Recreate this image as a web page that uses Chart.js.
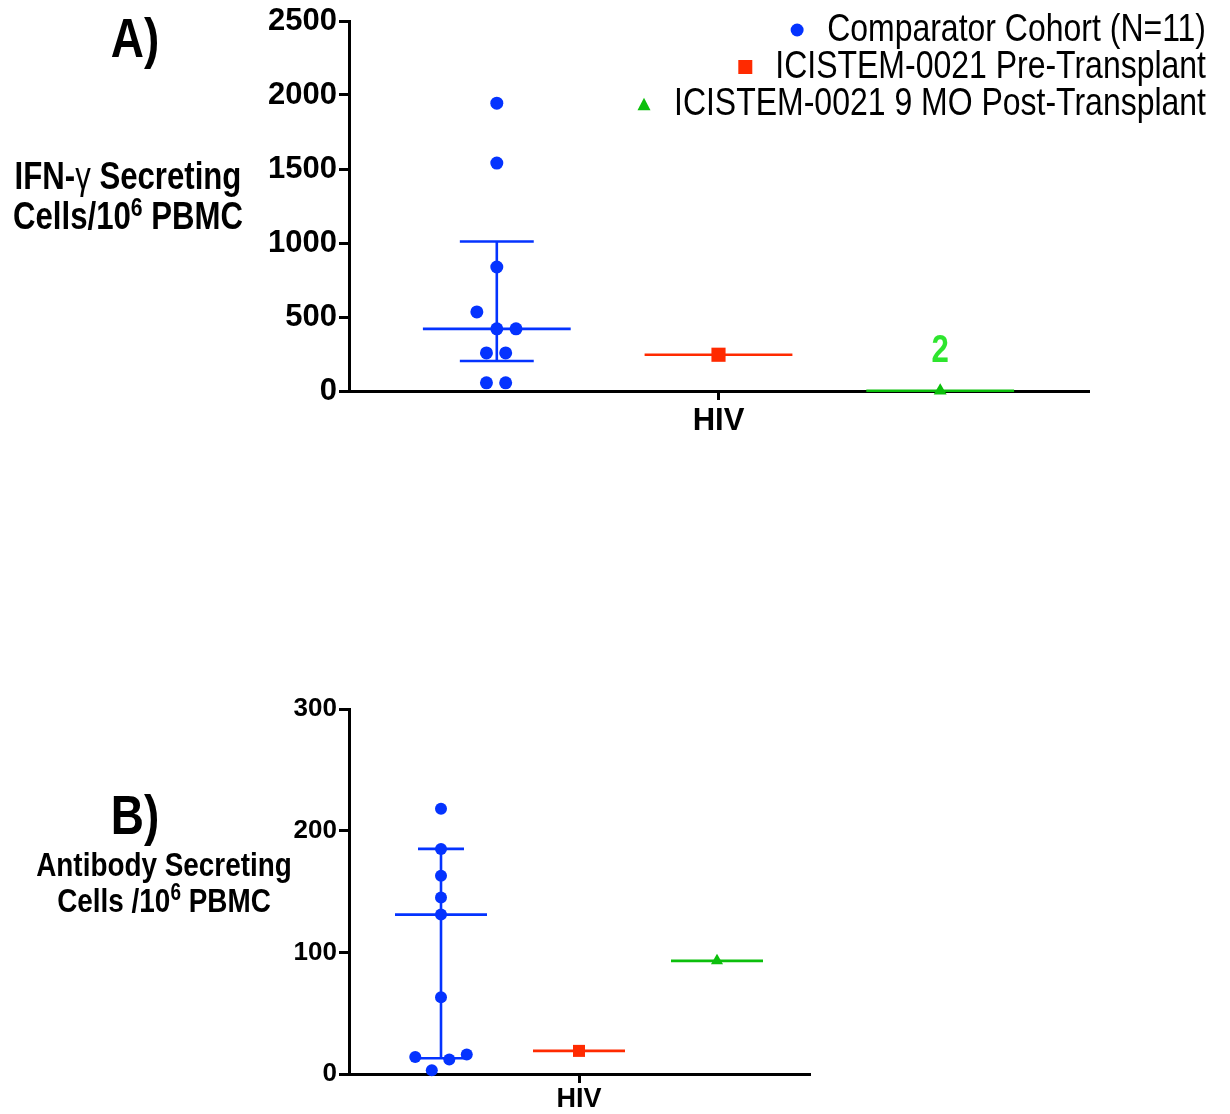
<!DOCTYPE html>
<html><head><meta charset="utf-8">
<script src="https://cdn.jsdelivr.net/npm/chart.js@4.4.1/dist/chart.umd.min.js"></script>
<style>
html,body{margin:0;padding:0;background:#fff;width:1230px;height:1114px;overflow:hidden;}
#wrap{position:relative;width:1230px;height:1114px;background:#fff;}
canvas{position:absolute;left:0;}
.lbl{position:absolute;font-weight:bold;color:#000;white-space:nowrap;line-height:1;}
.lbl sup{font-size:68%;vertical-align:0;position:relative;top:-0.5em;}
.gam{font-weight:normal;}
</style></head><body>
<div id="wrap">
<canvas id="cA" width="1230" height="450" style="top:0;width:1230px;height:450px"></canvas>
<canvas id="cB" width="1230" height="514" style="top:600px;width:1230px;height:514px"></canvas>
<div class="lbl" id="panelA" data-x="135" data-y="38" data-s="56">A)</div>
<div class="lbl" id="titleA1" data-x="128" data-y="176" data-s="38">IFN-<span class="gam">γ</span> Secreting</div>
<div class="lbl" id="titleA2" data-x="128" data-y="216" data-s="38">Cells/10<sup>6</sup> PBMC</div>
<div class="lbl" id="panelB" data-x="135" data-y="815" data-s="56">B)</div>
<div class="lbl" id="titleB1" data-x="164" data-y="864" data-s="34">Antibody Secreting</div>
<div class="lbl" id="titleB2" data-x="164" data-y="900" data-s="34">Cells /10<sup>6</sup> PBMC</div>
</div>
<script>
// ---------------- DATA ----------------
const categories = ['HIV'];
const seriesLabels = ['Comparator Cohort (N=11)', 'ICISTEM-0021 Pre-Transplant', 'ICISTEM-0021 9 MO Post-Transplant'];
const yTicksA = [0, 500, 1000, 1500, 2000, 2500];
const yTicksB = [0, 100, 200, 300];

// Panel A: IFN-gamma secreting cells / 10^6 PBMC
const comparatorA = [1945, 1540, 838, 534, 420, 420, 257, 257, 55, 55];
const comparatorJitterA = [0, 0, 0, -0.135, 0, 0.13, -0.07, 0.06, -0.07, 0.06];
const comparatorMedianA = [420];
const comparatorQ1A = [203];
const comparatorQ3A = [1010];
const preTransplantA = [245];
const postTransplantA = [2];

// Panel B: antibody secreting cells / 10^6 PBMC
const comparatorB = [218, 185, 163, 145, 131, 63, 14, 12, 16, 3];
const comparatorJitterB = [0, 0, 0, 0, 0, 0, -0.28, 0.09, 0.28, -0.1];
const comparatorMedianB = [131];
const comparatorQ1B = [13];
const comparatorQ3B = [185];
const preTransplantB = [19];
const postTransplantB = [93];

// ---------------- STYLE ----------------
const GROUP_X = [1, 2.5, 4];
const X_MIN = 0, X_MAX = 5;
const MED_HALF = 0.5, CAP_HALF = 0.25;
const BLUE = '#0433ff', RED = '#ff2a00', GREEN = '#0cbf0c', LABEL_GREEN = '#2ee52e';

function hasFont(name){
  const c = document.createElement('canvas').getContext('2d');
  const t = 'abcdefghijklmnopqrstuvwxyzABCDEFGHIJ0123456789';
  c.font = '40px monospace'; const w1 = c.measureText(t).width;
  c.font = '40px "' + name + '", monospace'; const w2 = c.measureText(t).width;
  return Math.abs(w1 - w2) > 0.5;
}
const NARROW = hasFont('Liberation Sans Narrow');
const FAM = NARROW ? '"Liberation Sans Narrow", "Liberation Sans", Arial, sans-serif' : '"Liberation Sans", Arial, sans-serif';
const K = NARROW ? 1 : 0.82;
const fs = n => Math.round(n * K);

// HTML labels
document.querySelectorAll('.lbl').forEach(el => {
  el.style.fontFamily = FAM;
  el.style.fontSize = el.dataset.s + 'px';
  el.style.left = el.dataset.x + 'px';
  el.style.top = el.dataset.y + 'px';
  el.style.transform = 'translate(-50%,-50%) scaleX(' + K + ')';
});

function drawMarker(ctx, style, x, y, size, color){
  ctx.fillStyle = color;
  ctx.beginPath();
  if (style === 'circle') { ctx.arc(x, y, size / 2, 0, Math.PI * 2); }
  else if (style === 'rect') { ctx.rect(x - size / 2, y - size / 2, size, size); }
  else if (style === 'triangle') {
    const h = size * 0.95;
    ctx.moveTo(x, y - h / 2); ctx.lineTo(x + size / 2, y + h / 2); ctx.lineTo(x - size / 2, y + h / 2); ctx.closePath();
  }
  ctx.fill();
}

const cornerLegend = {
  id: 'cornerLegend',
  afterDraw(chart, args, opts){
    if (!opts || !opts.show) return;
    const ctx = chart.ctx;
    ctx.save();
    ctx.font = '400 ' + opts.size + 'px ' + FAM;
    ctx.textBaseline = 'middle'; ctx.textAlign = 'left';
    const items = chart.data.datasets.filter(d => d.legendLabel);
    items.forEach((d, i) => {
      const y = opts.top + i * opts.rowGap;
      const w = ctx.measureText(d.legendLabel).width * K;
      const tx = opts.right - w;
      ctx.save(); ctx.translate(tx, y); ctx.scale(K, 1);
      ctx.fillStyle = '#000'; ctx.fillText(d.legendLabel, 0, 0); ctx.restore();
      drawMarker(ctx, d.pointStyle, tx - opts.gap, y, d.legendMarkerSize, d.backgroundColor);
    });
    ctx.restore();
  }
};

const valueLabels = {
  id: 'valueLabels',
  afterDatasetsDraw(chart){
    const ctx = chart.ctx;
    chart.data.datasets.forEach((d, i) => {
      if (!d.valueLabel) return;
      const meta = chart.getDatasetMeta(i);
      meta.data.forEach((el, j) => {
        ctx.save();
        ctx.font = 'bold 38px ' + FAM;
        ctx.fillStyle = LABEL_GREEN; ctx.textAlign = 'center'; ctx.textBaseline = 'middle';
        ctx.translate(el.x, el.y - 39); ctx.scale(K, 1);
        ctx.fillText(String(d.data[j].y), 0, 0);
        ctx.restore();
      });
    });
  }
};

function lineSet(points, color){
  return { type: 'scatter', data: points, showLine: true, borderColor: color, borderWidth: 2.6,
    pointRadius: 0, fill: false, clip: false, order: 2 };
}

function buildDatasets(comp, jit, med, q1, q3, pre, post, sizes, withValueLabel){
  const g = GROUP_X;
  return [
    lineSet([{x: g[0] - MED_HALF, y: med[0]}, {x: g[0] + MED_HALF, y: med[0]}], BLUE),
    lineSet([{x: g[0], y: q1[0]}, {x: g[0], y: q3[0]}], BLUE),
    lineSet([{x: g[0] - CAP_HALF, y: q3[0]}, {x: g[0] + CAP_HALF, y: q3[0]}], BLUE),
    lineSet([{x: g[0] - CAP_HALF, y: q1[0]}, {x: g[0] + CAP_HALF, y: q1[0]}], BLUE),
    lineSet([{x: g[1] - MED_HALF, y: pre[0]}, {x: g[1] + MED_HALF, y: pre[0]}], RED),
    lineSet([{x: g[2] - MED_HALF, y: post[0]}, {x: g[2] + MED_HALF, y: post[0]}], GREEN),
    { type: 'scatter', legendLabel: seriesLabels[0], legendMarkerSize: 13,
      data: comp.map((v, i) => ({x: g[0] + jit[i], y: v})),
      pointStyle: 'circle', pointRadius: sizes.circle, backgroundColor: BLUE, borderWidth: 0, clip: false, order: 0 },
    { type: 'scatter', legendLabel: seriesLabels[1], legendMarkerSize: 14,
      data: pre.map(v => ({x: g[1], y: v})),
      pointStyle: 'rect', pointRadius: sizes.rect, backgroundColor: RED, borderWidth: 0, clip: false, order: 0 },
    { type: 'scatter', legendLabel: seriesLabels[2], legendMarkerSize: 13, valueLabel: withValueLabel,
      data: post.map(v => ({x: g[2], y: v})),
      pointStyle: 'triangle', pointRadius: sizes.tri, backgroundColor: GREEN, borderWidth: 0, clip: false, order: 0 }
  ];
}

function makeChart(id, cfg){
  return new Chart(document.getElementById(id), {
    type: 'scatter',
    data: { datasets: cfg.datasets },
    plugins: [cornerLegend, valueLabels],
    options: {
      responsive: false, animation: false, events: [],
      layout: { padding: { left: 0, top: cfg.padTop, right: cfg.padRight, bottom: 0 } },
      plugins: { legend: { display: false }, tooltip: { enabled: false }, cornerLegend: cfg.legend || {show: false} },
      scales: {
        x: {
          type: 'linear', min: X_MIN, max: X_MAX,
          afterBuildTicks: s => { s.ticks = categories.map(() => ({value: GROUP_X[1]})); },
          afterFit: s => { s.height = cfg.xAxisH; },
          ticks: { callback: (v, i) => categories[i], color: '#000', padding: cfg.xPad, maxRotation: 0, autoSkip: false,
            font: { family: FAM, size: fs(cfg.xFont), weight: 'bold', lineHeight: 1 } },
          grid: { drawOnChartArea: false, drawTicks: true, tickLength: 9, color: '#000', lineWidth: 3 },
          border: { display: true, color: '#000', width: 3 }
        },
        y: {
          type: 'linear', min: cfg.yTicks[0], max: cfg.yTicks[cfg.yTicks.length - 1],
          afterBuildTicks: s => { s.ticks = cfg.yTicks.map(v => ({value: v})); },
          afterFit: s => { s.width = 349; },
          ticks: { color: '#000', padding: 2, callback: v => String(v),
            font: { family: FAM, size: fs(cfg.yFont), weight: 'bold', lineHeight: 1 } },
          grid: { drawOnChartArea: false, drawTicks: true, tickLength: 10, color: '#000', lineWidth: 3 },
          border: { display: true, color: '#000', width: 3 }
        }
      }
    }
  });
}

makeChart('cA', {
  datasets: buildDatasets(comparatorA, comparatorJitterA, comparatorMedianA, comparatorQ1A, comparatorQ3A,
    preTransplantA, postTransplantA, {circle: 6.5, rect: 10, tri: 7.5}, true),
  yTicks: yTicksA, padTop: 21, padRight: 142, xAxisH: 59, yFont: 38, xFont: 38, xPad: 6,
  legend: { show: true, right: 1206, top: 30, rowGap: 37, gap: 30, size: 39 }
});

makeChart('cB', {
  datasets: buildDatasets(comparatorB, comparatorJitterB, comparatorMedianB, comparatorQ1B, comparatorQ3B,
    preTransplantB, postTransplantB, {circle: 6, rect: 8.5, tri: 7}, false),
  yTicks: yTicksB, padTop: 109, padRight: 421, xAxisH: 40, yFont: 32, xFont: 33, xPad: 3
});
</script>
</body></html>
